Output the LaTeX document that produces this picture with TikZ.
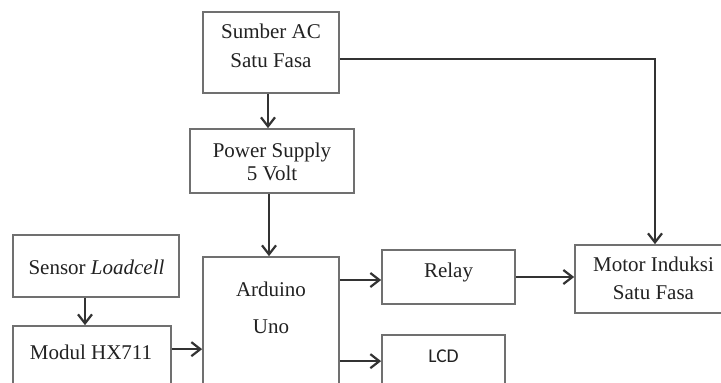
\documentclass[tikz,border=0pt]{standalone}
\usepackage{fontspec}
\setmainfont{Liberation Serif}
\newfontfamily\lcdfont{Carlito}
\usetikzlibrary{arrows.meta}
\definecolor{boxc}{HTML}{707070}
\definecolor{linec}{HTML}{333333}
\definecolor{txtc}{HTML}{222222}
\tikzset{
  blk/.style={draw=boxc, line width=1.7pt, rectangle, inner sep=0pt},
  txt/.style={anchor=base, inner sep=0pt, text=txtc, font=\fontsize{21}{24}\selectfont},
  conn/.style={draw=linec, line width=2.2pt, -{Straight Barb[length=9pt,width=14pt]}},
}
\begin{document}
\begin{tikzpicture}[x=1pt,y=-1pt]
\useasboundingbox (0,0) rectangle (721,383);
\fill[white] (0,0) rectangle (721,383);
\clip (0,0) rectangle (721,383);
% boxes
\node[blk, minimum width=136pt, minimum height=81pt] (sumber) at (271,52.5) {};
\node[blk, minimum width=164pt, minimum height=64pt] (ps) at (272,161) {};
\node[blk, minimum width=166pt, minimum height=62pt] (sensor) at (96,266) {};
\node[blk, minimum width=158pt, minimum height=94pt] (modul) at (92,373) {};
\node[blk, minimum width=136pt, minimum height=163pt] (arduino) at (271,338.5) {};
\node[blk, minimum width=133pt, minimum height=54pt] (relay) at (448.5,277) {};
\node[blk, minimum width=123pt, minimum height=85pt] (lcd) at (443.5,377.5) {};
\node[blk, minimum width=157pt, minimum height=68pt] (motor) at (653.5,279) {};
% texts
\node[txt] (sumber1) at (271,38) {Sumber AC};
\node[txt] (sumber2) at (271,67) {Satu Fasa};
\node[txt] (ps1) at (272,157) {Power Supply};
\node[txt] (ps2) at (272,180) {5 Volt};
\node[txt] (ard1) at (271,296) {Arduino};
\node[txt] (ard2) at (271,333) {Uno};
\node[txt] (relay1) at (448.5,277) {Relay};
\node[txt] (motor1) at (653.5,271) {Motor Induksi};
\node[txt] (motor2) at (653.5,299) {Satu Fasa};
\node[txt] (sensor1) at (96.5,274) {Sensor \textit{Loadcell}};
\node[txt] (modul1) at (91,359) {Modul HX711};
\node[txt, font=\lcdfont\fontsize{19.5}{22}\selectfont] (lcd1) at (443.5,362) {LCD};
% connectors
\draw[conn] ([xshift=-3pt]sumber.south) -- ([xshift=-3pt]sumber.south |- ps.north);
\draw[conn] ([xshift=-2pt]arduino.north |- ps.south) -- ([xshift=-2pt]arduino.north);
\draw[conn] ([xshift=-11pt]sensor.south) -- ([xshift=-11pt]sensor.south |- modul.north);
\draw[conn] ([yshift=-24pt]modul.north east) -- ([yshift=-24pt]modul.north east -| arduino.west);
\draw[conn] ([yshift=-3pt]relay.west -| arduino.east) -- ([yshift=-3pt]relay.west);
\draw[conn] ([yshift=-27pt]lcd.north west -| arduino.east) -- ([yshift=-27pt]lcd.north west);
\draw[conn] (relay.east) -- (relay.east -| motor.west);
\draw[conn] ([yshift=-6.5pt]sumber.east) -| ([xshift=1.5pt]motor.north);
\end{tikzpicture}
\end{document}
